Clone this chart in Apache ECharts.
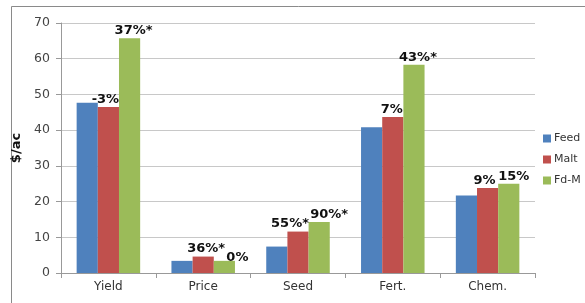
<!DOCTYPE html>
<html>
<head>
<meta charset="utf-8">
<script src="https://cdn.jsdelivr.net/npm/echarts@6/dist/echarts.min.js"></script>
<style>
html, body { margin: 0; padding: 0; background: #fff; }
#container { width: 585px; height: 303px; }
</style>
</head>
<body>
<div id="container"></div>
<script>
var categories = ['Yield', 'Price', 'Seed', 'Fert.', 'Chem.'];
var feed = [47.7, 3.4, 7.4, 40.8, 21.7];
var malt = [46.5, 4.6, 11.6, 43.7, 23.8];
var fdm = [65.7, 3.4, 14.3, 58.3, 25.0];
var maltLabels = ['-3%', '36%*', '55%*', '7%', '9%'];
var fdmLabels = ['37%*', '0%', '90%*', '43%*', '15%'];

// nudges so the labels don't collide (like the original)
var maltShift = [[-3, 0], [3, 0], [-8, 0], [-1, 0], [-3, 0]];
var fdmShift = [[4, 0], [13, 4], [10, 0], [4, 0], [5, 0]];

var labelStyle = {
  show: true,
  position: 'top',
  distance: 1,
  color: '#111',
  fontWeight: 'bold',
  fontSize: 13,
  fontFamily: 'DejaVu Sans'
};

function withLabels(values, texts, shifts) {
  return values.map(function (v, i) {
    return { value: v, label: { formatter: texts[i], offset: shifts[i] } };
  });
}

var option = {
  animation: false,
  graphic: [{
    type: 'rect',
    shape: { x: 11.5, y: 6.5, width: 580, height: 310 },
    style: { fill: 'none', stroke: '#8a8a8a', lineWidth: 1 }
  }],
  legend: {
    orient: 'vertical',
    left: 538,
    top: 128,
    itemWidth: 8,
    itemHeight: 8,
    itemGap: 10,
    icon: 'rect',
    textStyle: { fontSize: 11, color: '#333', fontFamily: 'DejaVu Sans', padding: [0, 0, 0, -2] },
    data: ['Feed', 'Malt', 'Fd-M']
  },
  grid: { left: 61, right: 50, top: 23, bottom: 30 },
  xAxis: {
    type: 'category',
    data: categories,
    axisLine: { lineStyle: { color: '#999' } },
    axisTick: { show: true, length: 5, lineStyle: { color: '#999' } },
    axisLabel: { color: '#333', fontSize: 12, fontFamily: 'DejaVu Sans', margin: 8 }
  },
  yAxis: {
    type: 'value',
    min: 0,
    max: 70,
    interval: 10,
    name: '$/ac',
    nameLocation: 'middle',
    nameGap: 35,
    nameTextStyle: { fontWeight: 'bold', fontSize: 13, color: '#111', fontFamily: 'DejaVu Sans' },
    axisLine: { show: true, lineStyle: { color: '#999' } },
    axisTick: { show: true, length: 5, lineStyle: { color: '#999' } },
    axisLabel: { color: '#444', fontSize: 12.5, fontFamily: 'DejaVu Sans', margin: 11 },
    splitLine: { lineStyle: { color: '#c8c8c8' } }
  },
  series: [{
    name: 'Feed',
    type: 'bar',
    barGap: '0%',
    barCategoryGap: '33%',
    itemStyle: { color: '#4F81BD' },
    data: feed
  }, {
    name: 'Malt',
    type: 'bar',
    itemStyle: { color: '#C0504D' },
    label: labelStyle,
    data: withLabels(malt, maltLabels, maltShift)
  }, {
    name: 'Fd-M',
    type: 'bar',
    itemStyle: { color: '#9BBB59' },
    label: labelStyle,
    data: withLabels(fdm, fdmLabels, fdmShift)
  }]
};

var myChart = echarts.init(document.getElementById('container'), null, { renderer: 'canvas' });
myChart.setOption(option);
</script>
</body>
</html>
